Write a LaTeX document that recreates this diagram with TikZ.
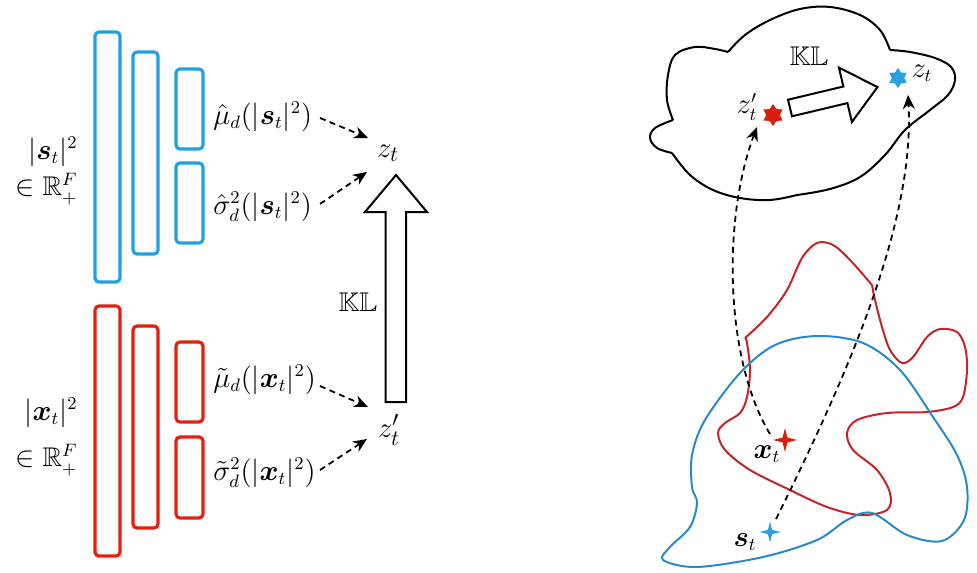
\documentclass[tikz,border=0pt]{standalone}
\usepackage{amsmath,amssymb,bm}
\usetikzlibrary{shapes.geometric,arrows.meta}
\definecolor{cblue}{RGB}{30,160,225}
\definecolor{cred}{RGB}{228,32,12}
\definecolor{dblue}{RGB}{40,138,200}
\definecolor{dred}{RGB}{196,36,40}
\definecolor{sred}{RGB}{215,30,15}
\definecolor{sblue}{RGB}{40,160,225}
\begin{document}
\begin{tikzpicture}[x=0.5pt,y=-0.5pt,
  every node/.style={font=\fontsize{13.5}{16}\selectfont},
  bluebox/.style={draw=cblue,line width=1.6pt,rounded corners=2pt,inner sep=0pt,minimum width=12.5pt},
  redbox/.style={draw=cred,line width=1.6pt,rounded corners=2pt,inner sep=0pt,minimum width=12.5pt},
  darr/.style={line width=0.9pt,dash pattern=on 3pt off 2.2pt,-{Stealth[length=7pt,width=6pt]}},
  bigarrow/.style={draw=black,line width=1pt,fill=white,line join=miter},
  sixstar/.style={star,star points=6,star point ratio=1.6,minimum size=11pt,inner sep=0pt,draw=none},
  fourstar/.style={star,star points=4,star point ratio=3.5,minimum size=12pt,inner sep=0pt,draw=none},
  outline/.style={line width=1pt,line join=round},
  lab/.style={inner sep=1pt}]
\useasboundingbox (0,0) rectangle (977,572);
% ---------- left panel ----------
\node[bluebox,minimum height=125pt] (b1) at (107.5,157) {};
\node[bluebox,minimum height=101pt] (b2) at (145.5,153) {};
\node[bluebox,minimum width=13.5pt,minimum height=40pt] (b3) at (189.5,109) {};
\node[bluebox,minimum width=13.5pt,minimum height=40pt] (b4) at (189.5,203) {};
\node[redbox,minimum height=125pt] (r1) at (107.5,431) {};
\node[redbox,minimum height=101pt] (r2) at (145.5,427) {};
\node[redbox,minimum width=13.5pt,minimum height=40pt] (r3) at (189.5,382) {};
\node[redbox,minimum width=13.5pt,minimum height=40.5pt] (r4) at (189.5,477.5) {};

\node[lab,anchor=east] (sl1) at (80,152) {$|\bm{s}_t|^2$};
\node[lab,anchor=east] (sl2) at (80,189) {$\in \mathbb{R}_+^F$};
\node[lab,anchor=east] (xl1) at (80,413) {$|\bm{x}_t|^2$};
\node[lab,anchor=east] (xl2) at (80,460) {$\in \mathbb{R}_+^F$};

\node[lab,anchor=west] (mus) at (211,117) {$\hat{\mu}_d(|\bm{s}_t|^2)$};
\node[lab,anchor=west] (sis) at (211,207) {$\hat{\sigma}^2_d(|\bm{s}_t|^2)$};
\node[lab,anchor=west] (mux) at (211,380) {$\tilde{\mu}_d(|\bm{x}_t|^2)$};
\node[lab,anchor=west] (six) at (211,473) {$\tilde{\sigma}^2_d(|\bm{x}_t|^2)$};

\node[lab,font=\fontsize{15}{18}\selectfont] (zt) at (388,153) {$z_t$};
\node[lab,font=\fontsize{15}{18}\selectfont] (zpt) at (389,430) {$z'_t$};

\coordinate (a1s) at (320,118); \coordinate (a1e) at (368,138);
\coordinate (a2s) at (320,204); \coordinate (a2e) at (367,172);
\coordinate (a3s) at (320,386); \coordinate (a3e) at (368,407);
\coordinate (a4s) at (320,470); \coordinate (a4e) at (367,439);
\draw[darr] (a1s) -- (a1e);
\draw[darr] (a2s) -- (a2e);
\draw[darr] (a3s) -- (a3e);
\draw[darr] (a4s) -- (a4e);

\draw[bigarrow] (385.5,402) -- (406,402) -- (406,212) -- (427,212) -- (396,175) -- (365,212) -- (385.5,212) -- cycle;
\node[lab] (kl1) at (358,302) {$\mathbb{KL}$};

% ---------- right panel ----------
% cloud (latent space), lobe by lobe
\draw[outline] plot[smooth,tension=0.6] coordinates {(728,52) (745,35) (770,20) (800,9) (830,7) (860,15) (880,30) (890,50)};
\draw[outline] plot[smooth,tension=0.6] coordinates {(890,50) (910,52) (935,58) (951,67) (955,80) (948,95) (930,110) (905,130) (885,155) (860,177) (830,189) (797,195)};
\draw[outline] plot[smooth,tension=0.6] coordinates {(797,195) (770,200) (740,198) (713,190) (690,175) (672,153)};
\draw[outline] plot[smooth,tension=0.6] coordinates {(672,153) (657,148) (650,138) (655,128) (673,120)};
\draw[outline] plot[smooth,tension=0.6] coordinates {(673,120) (667,100) (668,75) (675,55) (695,47) (715,49) (728,52)};
\node[lab] (kl2) at (809,56) {$\mathbb{KL}$};
\draw[bigarrow] (788,99.7) -- (792,116.3) -- (847.4,103.1) -- (851.9,122) -- (877.5,87.1) -- (838.9,67.6) -- (843.4,86.5) -- cycle;

% red region (two corners)
\draw[dred,line width=1pt] plot[smooth,tension=0.55] coordinates {
 (745,338) (767,317) (787,290) (802,258) (817,243) (833,245) (850,260) (872,285)};
\draw[dred,line width=1pt] plot[smooth,tension=0.55] coordinates {
 (872,285) (875,300) (882,327) (890,350) (902,363) (913,357) (927,337) (940,329) (957,332)
 (965,347) (967,370) (963,397) (953,407) (927,412) (887,413) (857,420) (847,433) (853,450)
 (877,470) (890,493) (887,510) (860,515) (827,507) (790,490) (750,470) (725,450) (718,433)
 (725,423) (740,413) (747,397) (750,370) (747,343) (745,338)};
% blue region
\draw[dblue,line width=1pt] plot[smooth cycle,tension=0.55] coordinates {
 (817,336) (863,343) (900,370) (933,417) (957,455) (967,487) (964,520) (942,541)
 (907,535) (872,513) (847,520) (817,540) (763,557) (697,567) (663,560) (670,547)
 (690,527) (697,503) (692,487) (692,455) (705,420) (740,373) (775,345)};

\node[sixstar,fill=sred] (szp) at (773,115) {};
\node[sixstar,fill=sblue,minimum size=10pt] (szt) at (898,78) {};
\node[lab] (lzp) at (747,107) {$z'_t$};
\node[lab] (lzt) at (922,73) {$z_t$};

\node[fourstar,fill=sred] (sx) at (785,440) {};
\node[fourstar,fill=sblue,minimum size=10.5pt] (ss) at (770,532) {};
\node[lab] (lx) at (767,454) {$\bm{x}_t$};
\node[lab] (ls) at (745,542) {$\bm{s}_t$};

\coordinate (c1s) at (770,434);
\coordinate (c2s) at (776,519);
\coordinate (c1e) at (757,127);
\coordinate (c2e) at (908,95);
\draw[darr] (c1s) .. controls (725,360) and (722,220) .. (c1e);
\draw[darr] (c2s) .. controls (850,370) and (915,220) .. (c2e);
\end{tikzpicture}
\end{document}
